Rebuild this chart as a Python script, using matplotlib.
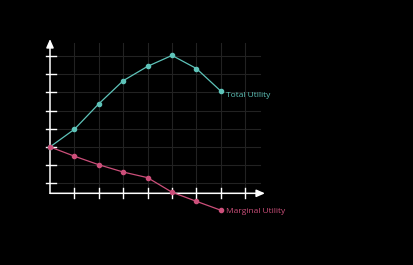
import numpy as np
import matplotlib
matplotlib.use("Agg")
import matplotlib.pyplot as plt

# values in grid units (x = quantity, y = tick levels)
qty = [0, 1, 2, 3, 4, 5, 6, 7]
total_utility = [3.0, 3.97, 5.37, 6.64, 7.43, 8.03, 7.31, 6.07]
marginal_utility = [3.0, 2.49, 2.02, 1.62, 1.31, 0.51, 0.01, -0.48]
x_ticks = [1, 2, 3, 4, 5, 6, 7, 8]
y_ticks = [1, 2, 3, 4, 5, 6, 7, 8]

teal = "#5ec3b9"
pink = "#cc4f7a"
grid_col = "#222222"
base = 0.45  # level of the x axis

fig = plt.figure(figsize=(4.13, 2.65), dpi=100, facecolor="black")
ax = fig.add_axes([0, 0, 1, 1])
ax.set_facecolor("black")
ax.set_xlim(-2.049, 14.877)
ax.set_ylim(-3.491, 11.077)
ax.axis("off")

# grid
for xv in x_ticks:
    ax.plot([xv, xv], [base, 8.71], color=grid_col, lw=0.8, zorder=1)
for yv in y_ticks:
    ax.plot([0, 8.61], [yv, yv], color=grid_col, lw=0.8, zorder=1)

# axes with arrows
ax.annotate("", xy=(0, 8.93), xytext=(0, base),
            arrowprops=dict(arrowstyle="-|>,head_length=0.5,head_width=0.22",
                            color="white", lw=1.1, shrinkA=0, shrinkB=0), zorder=3)
ax.annotate("", xy=(8.81, base), xytext=(0, base),
            arrowprops=dict(arrowstyle="-|>,head_length=0.5,head_width=0.22",
                            color="white", lw=1.1, shrinkA=0, shrinkB=0), zorder=3)
for xv in x_ticks:
    ax.plot([xv, xv], [0.19, 0.74], color="white", lw=1.0, zorder=3)
for yv in y_ticks:
    ax.plot([-0.164, 0.246], [yv, yv], color="white", lw=1.0, zorder=3)

ax.plot(qty, total_utility, color=teal, lw=0.9, marker="o", ms=3, zorder=4)
ax.plot(qty, marginal_utility, color=pink, lw=0.9, marker="o", ms=3, zorder=4)

ax.text(7.22, 5.85, "Total Utility", color=teal, fontsize=6.0,
        family="Open Sans", va="center", ha="left")
ax.text(7.22, -0.53, "Marginal Utility", color=pink, fontsize=6.0,
        family="Open Sans", va="center", ha="left")

fig.savefig("out.png", dpi=100, facecolor="black")
